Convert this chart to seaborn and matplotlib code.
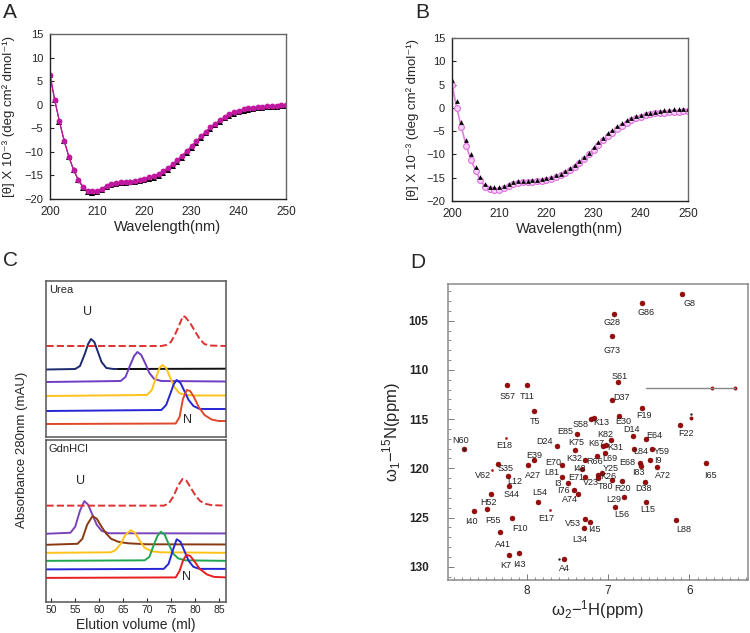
import numpy as np
import pandas as pd
import matplotlib
matplotlib.use("Agg")
import matplotlib.pyplot as plt
import seaborn as sns
from matplotlib.ticker import MultipleLocator

# ---------------- data ----------------
# A / B : CD spectra, one value per nm
wavelength = list(range(200, 251))
a_magenta = [6.4, 1.0, -3.5, -7.6, -11.0, -13.8, -15.9, -17.4, -18.3, -18.4,
             -18.3, -17.8, -17.2, -16.8, -16.6, -16.4, -16.4, -16.3, -16.2, -16.0,
             -15.7, -15.4, -15.1, -14.7, -14.1, -13.4, -12.6, -11.7, -10.8, -9.8,
             -8.8, -7.7, -6.7, -5.7, -4.8, -4.0, -3.3, -2.6, -2.0, -1.6,
             -1.3, -1.0, -0.8, -0.6, -0.5, -0.4, -0.3, -0.2, -0.2, -0.1, 0.0]
a_black = [6.3, 0.9, -3.6, -7.7, -11.1, -13.9, -16.0, -17.6, -18.5, -18.7,
           -18.5, -18.0, -17.4, -17.0, -16.8, -16.6, -16.6, -16.5, -16.4, -16.2,
           -16.0, -15.8, -15.5, -15.1, -14.5, -13.8, -13.0, -12.1, -11.2, -10.2,
           -9.2, -8.1, -7.1, -6.1, -5.1, -4.3, -3.6, -2.9, -2.3, -1.9,
           -1.6, -1.3, -1.1, -0.9, -0.8, -0.6, -0.5, -0.4, -0.4, -0.3, -0.2]
b_black = [6.0, 1.4, -3.0, -6.9, -10.0, -12.7, -14.9, -16.4, -16.9, -17.0,
           -17.0, -16.7, -16.3, -16.0, -15.7, -15.6, -15.6, -15.5, -15.4, -15.2,
           -15.0, -14.8, -14.5, -14.1, -13.6, -13.0, -12.3, -11.5, -10.6, -9.6,
           -8.5, -7.4, -6.4, -5.5, -4.7, -3.9, -3.3, -2.7, -2.2, -1.8,
           -1.5, -1.2, -1.0, -0.8, -0.6, -0.5, -0.4, -0.3, -0.2, -0.2, -0.3]
b_pink = [5.0, 0.0, -4.2, -8.1, -11.1, -13.5, -15.5, -16.9, -17.4, -17.6,
          -17.6, -17.3, -16.8, -16.3, -16.1, -16.0, -16.0, -15.9, -15.8, -15.6,
          -15.4, -15.2, -14.9, -14.5, -14.0, -13.4, -12.7, -11.9, -11.0, -10.0,
          -9.0, -8.0, -7.0, -6.1, -5.3, -4.5, -3.8, -3.2, -2.6, -2.2,
          -1.9, -1.6, -1.4, -1.2, -1.1, -1.0, -0.9, -0.8, -0.8, -0.7, -0.7]

# C : SEC traces (elution volume in ml, absorbance in arbitrary offset units)
urea_dash_x = [49, 73, 74, 75, 76, 77, 77.5, 78, 79, 80, 81, 82, 83, 86.5]
urea_dash_y = [91, 91, 92, 95, 104, 115, 121, 120, 114, 106, 98, 93, 91.5, 91]
urea_navy_x = [49, 55, 56, 57, 57.7, 58.3, 59, 59.6, 60.5, 61.5, 63, 70]
urea_navy_y = [67.5, 68, 71, 83, 93, 98, 95, 87, 75, 69, 68, 68]
urea_black_x = [64, 86.5]
urea_black_y = [68, 68.3]
urea_purple_x = [49, 64.5, 65.5, 66.5, 67.3, 68, 68.8, 69.6, 70.5, 71.5, 73, 86.5]
urea_purple_y = [55, 56, 60, 72, 81, 85, 82, 74, 64, 58, 56, 55.5]
urea_gold_x = [49, 70, 71, 72, 72.6, 73.2, 74, 74.8, 75.7, 76.7, 78, 80, 86.5]
urea_gold_y = [41, 42, 47, 61, 69, 72, 69, 60, 50, 44, 42, 41.5, 41.5]
urea_blue_x = [49, 73, 74, 75, 75.6, 76.2, 77, 77.8, 78.7, 79.7, 81, 86.5]
urea_blue_y = [26, 27, 32, 45, 53, 57, 54, 46, 37, 31, 28, 28]
urea_red_x = [49, 76, 76.8, 77.5, 78.3, 79, 79.8, 80.8, 82, 83.5, 85, 86.5]
urea_red_y = [13, 13.5, 20, 38, 47, 46, 40, 30, 22, 17.5, 16, 16]

gdn_dash_x = [49, 73.5, 74.5, 75.5, 76.5, 77.4, 78.2, 79, 80, 81, 82, 83.5, 86.5]
gdn_dash_y = [96, 96, 98, 105, 116, 122.5, 121, 115, 107, 101, 98, 96.5, 96]
gdn_purple_x = [49, 54, 55, 56, 56.9, 57.7, 58.5, 59.5, 60.5, 62, 86.5]
gdn_purple_y = [68, 69, 75, 91, 100.5, 97, 88, 77, 71, 68.5, 68.3]
gdn_brown_x = [49, 55.5, 56.5, 57.5, 58.6, 59.5, 60.5, 61.5, 62.5, 64, 66, 70, 86.5]
gdn_brown_y = [57, 58, 63, 77, 85.5, 83, 75, 68, 63, 60, 58.5, 57.5, 57.3]
gdn_gold_x = [49, 62.5, 63.5, 64.5, 65.5, 66.6, 67.5, 68.5, 69.5, 71, 73, 86.5]
gdn_gold_y = [49, 49.5, 52, 58, 67, 71.5, 69, 61, 54, 50.5, 49.5, 49]
gdn_green_x = [49, 69.5, 70.5, 71.5, 72.2, 72.9, 73.7, 74.5, 75.5, 76.5, 78, 86.5]
gdn_green_y = [41, 41.5, 45, 58, 66, 70, 67, 58, 48, 43.5, 41.5, 41]
gdn_blue_x = [49, 73.5, 74.5, 75.5, 76.2, 77, 77.8, 78.7, 79.7, 81, 86.5]
gdn_blue_y = [32.5, 33, 38, 53, 62.5, 60, 51, 41, 35, 33, 33]
gdn_red_x = [49, 76, 76.8, 77.5, 78.2, 79, 80, 81, 82.5, 84, 86.5]
gdn_red_y = [24, 24.5, 31, 41, 47, 46, 40, 33, 27.5, 25, 24.5]

# D : HSQC peaks
peak_names = ["G8", "G86", "G28", "G73", "S61", "D37", "S57", "T11", "T5", "S58",
              "K13", "E30", "F19", "F22", "E85", "D24", "K75", "K82", "K67", "K31",
              "D14", "E64", "L84", "Y59", "I9", "E68", "I83", "A72", "I65", "L69",
              "R66", "K32", "E70", "I42", "Y25", "K26", "E71", "V23", "L81", "T80",
              "R20", "D38", "I3", "I76", "A74", "L29", "L56", "L15", "L88", "L54",
              "E17", "E39", "A27", "E18", "N60", "S35", "V62", "L12", "S44", "H52",
              "I40", "F55", "F10", "A41", "K7", "I43", "A4", "V53", "I45", "L34"]
h_ppm = [6.09, 6.58, 6.93, 6.95, 6.88, 6.95, 8.24, 8.00, 7.91, 7.21,
         7.18, 6.87, 6.58, 6.12, 7.38, 7.63, 7.41, 6.96, 7.06, 7.03,
         6.70, 6.53, 6.68, 6.46, 6.49, 6.61, 6.60, 6.40, 5.80, 7.04,
         7.14, 7.29, 7.57, 7.32, 7.08, 7.13, 7.28, 7.13, 7.57, 6.95,
         6.83, 6.55, 7.49, 7.42, 7.37, 6.81, 6.91, 6.53, 6.16, 7.86,
         7.71, 7.91, 7.98, 8.26, 8.77, 8.35, 8.43, 8.23, 8.22, 8.44,
         8.65, 8.49, 8.18, 8.33, 8.22, 8.10, 7.54, 7.29, 7.22, 7.30]
n_ppm = [102.3, 103.2, 104.3, 106.6, 111.2, 113.1, 111.5, 111.5, 114.2, 115.0,
         114.9, 114.7, 113.9, 115.6, 116.5, 117.7, 118.1, 117.1, 117.75, 117.65,
         116.7, 117.0, 118.0, 118.0, 119.2, 119.5, 119.8, 119.9, 119.5, 118.4,
         118.7, 119.2, 119.7, 120.1, 120.45, 120.7, 120.85, 120.95, 120.85, 121.2,
         121.3, 121.4, 121.5, 122.2, 122.65, 122.9, 123.9, 123.4, 125.3, 123.4,
         124.2, 119.2, 119.7, 116.9, 118.0, 119.6, 120.2, 120.8, 121.8, 122.6,
         124.3, 124.1, 125.1, 126.5, 128.8, 128.65, 129.2, 125.2, 125.5, 126.1]
# unassigned extra peaks
extra_h = [5.98, 5.72, 5.44]
extra_n = [114.9, 111.8, 111.8]
tiny_h = [8.77, 5.98, 7.6]
tiny_n = [118.0, 114.45, 129.2]

# ---------------- layout ----------------
W, H = 750, 633
label_offset = {  # pixels (right, down) from peak to label centre
    "G8": (7, 9), "G86": (4, 10), "G28": (-2, 9), "G73": (0, 14), "S61": (2, -5),
    "D37": (9, -3), "S57": (0, 12), "T11": (0, 12), "T5": (1, 10), "S58": (-11, 5),
    "K13": (8, 4), "E30": (5, 5), "F19": (2, 7), "F22": (6, 8), "E85": (-12, -2),
    "D24": (-12, -4), "K75": (1, -7), "K82": (-6, -5), "K67": (-7, -3), "K31": (10, 2),
    "D14": (-1, -6), "E64": (8, -3), "L84": (7, 3), "Y59": (10, 3), "I9": (8, 0),
    "E68": (-13, -1), "I83": (-2, 6), "A72": (6, 8), "I65": (5, 12), "L69": (5, 6),
    "R66": (-2, 6), "K32": (-10, -2), "E70": (-9, -3), "I42": (-3, -1), "Y25": (9, -4),
    "K26": (11, 1), "E71": (-9, 1), "V23": (-7, 5), "L81": (-10, -4), "T80": (-7, 6),
    "R20": (1, 7), "D38": (-1, 6), "I3": (-10, 0), "I76": (-11, 1), "A74": (-8, 5),
    "L29": (-10, 3), "L56": (6, 8), "L15": (1, 8), "L88": (7, 9), "L54": (2, -9),
    "E17": (-4, 9), "E39": (0, -5), "A27": (4, 10), "E18": (-1, 8), "N60": (-4, -8),
    "S35": (7, 4), "V62": (-9, 5), "L12": (7, 5), "S44": (3, 8), "H52": (-3, 9),
    "I40": (-3, 11), "F55": (6, 12), "F10": (8, 10), "A41": (3, 12), "K7": (-3, 11),
    "I43": (1, 11), "A4": (0, 10), "V53": (-12, 4), "I45": (4, 7), "L34": (-4, 11)}
weak = {"E18", "E17", "V62"}

sns.set_style("ticks")
plt.rcParams['font.family'] = ['Liberation Sans', 'DejaVu Sans']
plt.rcParams['mathtext.default'] = 'regular'

fig = plt.figure(figsize=(W / 100, H / 100), dpi=100)


def px_axes(l, t, r, b):
    return fig.add_axes([l / W, 1 - b / H, (r - l) / W, (b - t) / H])


def cd_axes(ax, ylab_x):
    ax.set_xlim(200, 250)
    ax.set_ylim(-20, 15)
    ax.xaxis.set_major_locator(MultipleLocator(10))
    ax.yaxis.set_major_locator(MultipleLocator(5))
    ax.tick_params(axis='y', direction='in', length=3, labelsize=8, pad=5)
    ax.tick_params(axis='x', direction='in', length=0, labelsize=8.5, pad=5)
    for s in ax.spines.values():
        s.set_linewidth(1.0)
    ax.spines['left'].set_color('#222222')
    ax.spines['bottom'].set_color('#222222')
    ax.spines['top'].set_color('#666666')
    ax.spines['right'].set_color('#666666')
    ax.set_xlabel("Wavelength(nm)", fontsize=10.5)
    ax.set_ylabel("[θ] X 10⁻³ (deg cm² dmol⁻¹)", fontsize=9.5)
    ax.xaxis.set_label_coords(0.5, -0.13)
    ax.yaxis.set_label_coords(ylab_x, 0.5)


# ---- A ----
axA = px_axes(50, 34, 286, 199)
sns.lineplot(x=wavelength, y=a_black, ax=axA, color='black', lw=0.6,
             marker='^', markersize=4, markeredgewidth=0)
sns.lineplot(x=wavelength, y=a_magenta, ax=axA, color='#c0189e', lw=1.0,
             marker='o', markersize=4.2, markeredgewidth=0)
cd_axes(axA, -0.15)

# ---- B ----
axB = px_axes(452, 38, 688, 201)
sns.lineplot(x=wavelength, y=b_pink, ax=axB, color='#e27ce2', lw=1.2,
             marker='o', markersize=4.2, markerfacecolor='#f6d2f6',
             markeredgecolor='#dd6edd', markeredgewidth=0.8)
sns.lineplot(x=wavelength, y=b_black, ax=axB, color='black', lw=0,
             marker='^', markersize=3.4, markeredgewidth=0)
cd_axes(axB, -0.14)

# ---- C ----
axC1 = px_axes(46, 281, 226, 437)
axC2 = px_axes(46, 440, 226, 602)
urea_lines = [(urea_navy_x, urea_navy_y, '#1c2a6e', '-'),
              (urea_black_x, urea_black_y, '#111111', '-'),
              (urea_purple_x, urea_purple_y, '#6f3cc4', '-'),
              (urea_gold_x, urea_gold_y, '#ffc21a', '-'),
              (urea_blue_x, urea_blue_y, '#2626d6', '-'),
              (urea_red_x, urea_red_y, '#e0482a', '-'),
              (urea_dash_x, urea_dash_y, '#e03030', '--')]
gdn_lines = [(gdn_purple_x, gdn_purple_y, '#7a44b8', '-'),
             (gdn_brown_x, gdn_brown_y, '#8a3a10', '-'),
             (gdn_gold_x, gdn_gold_y, '#ffc21a', '-'),
             (gdn_green_x, gdn_green_y, '#1fa650', '-'),
             (gdn_blue_x, gdn_blue_y, '#2626d6', '-'),
             (gdn_red_x, gdn_red_y, '#e82020', '-'),
             (gdn_dash_x, gdn_dash_y, '#e03030', '--')]
for ax, lines, top, name in [(axC1, urea_lines, 156, "Urea"), (axC2, gdn_lines, 161.4, "GdnHCl")]:
    for x, y, c, ls in lines:
        sns.lineplot(x=x, y=y, ax=ax, color=c, lw=1.4, linestyle=ls)
    ax.set_xlim(48.9, 86.5)
    ax.set_ylim(0, top)
    ax.set_yticks([])
    ax.xaxis.set_major_locator(MultipleLocator(5))
    ax.tick_params(axis='x', direction='in', length=3, labelsize=7.5, pad=2)
    for s in ax.spines.values():
        s.set_color('#555555')
        s.set_linewidth(1.1)
    ax.text(0.015, 0.975, name, transform=ax.transAxes, ha='left', va='top', fontsize=8)
axC1.set_xticklabels([])
axC1.tick_params(axis='x', length=0)
axC1.text(57.6, 125, "U", ha='center', va='center', fontsize=9)
axC1.text(78.5, 17, "N", ha='center', va='center', fontsize=9)
axC2.text(56.05, 121, "U", ha='center', va='center', fontsize=9)
axC2.text(78.2, 25, "N", ha='center', va='center', fontsize=9)
axC2.set_xlabel("Elution volume (ml)", fontsize=10, labelpad=2)
fig.text(22 / W, 1 - 450 / H, "Absorbance 280nm (mAU)", rotation=90,
         ha='center', va='center', fontsize=9.5)

# ---- D ----
axD = px_axes(448, 284, 748, 580)
axD.plot([6.54, 5.44], [111.8, 111.8], color='#888888', lw=1.0)
strong = [n not in weak for n in peak_names]
sns.scatterplot(x=[h for h, s in zip(h_ppm, strong) if s],
                y=[v for v, s in zip(n_ppm, strong) if s],
                ax=axD, color='#9a0c0c', s=13, marker='o', edgecolor='#6e0000',
                linewidth=0.3)
sns.scatterplot(x=[h for h, s in zip(h_ppm, strong) if not s],
                y=[v for v, s in zip(n_ppm, strong) if not s],
                ax=axD, color='#b02020', s=4, marker='o', linewidth=0)
sns.scatterplot(x=extra_h, y=extra_n, ax=axD, color='#9a0c0c', s=8, linewidth=0)
sns.scatterplot(x=tiny_h, y=tiny_n, ax=axD, color='#222222', s=3, linewidth=0)
for name, h, n in zip(peak_names, h_ppm, n_ppm):
    dx, dy = label_offset[name]
    axD.annotate(name, (h, n), xytext=(dx, -dy), textcoords='offset pixels',
                 ha='center', va='center', fontsize=6.5, color='#222222')
axD.set_xlim(8.97, 5.28)
axD.set_ylim(131.35, 101.27)
axD.xaxis.set_major_locator(MultipleLocator(1))
axD.xaxis.set_minor_locator(MultipleLocator(0.1))
axD.yaxis.set_major_locator(MultipleLocator(5))
axD.yaxis.set_minor_locator(MultipleLocator(1))
axD.tick_params(which='both', direction='in', top=False, right=False, labelsize=8.5)
axD.tick_params(which='major', length=4, width=0.7, color='#777777')
axD.tick_params(which='minor', length=2, width=0.6, color='#777777')
axD.tick_params(axis='y', pad=14)
for lab in axD.get_yticklabels():
    lab.set_fontweight('bold')
for s in axD.spines.values():
    s.set_color('#8a8a8a')
    s.set_linewidth(1.1)
axD.set_xlabel("ω$_2$−$^1$H(ppm)", fontsize=12)
axD.set_ylabel("ω$_1$−$^{15}$N(ppm)", fontsize=12)
axD.xaxis.set_label_coords(0.5, -0.06)
axD.yaxis.set_label_coords(-0.15, 0.5)

# panel letters
for letter, x, y in [("A", 10, 13), ("B", 422, 12), ("C", 10, 260), ("D", 418, 262)]:
    fig.text(x / W, 1 - y / H, letter, fontsize=15, ha='center', va='center')

fig.savefig("out.png", dpi=100)
